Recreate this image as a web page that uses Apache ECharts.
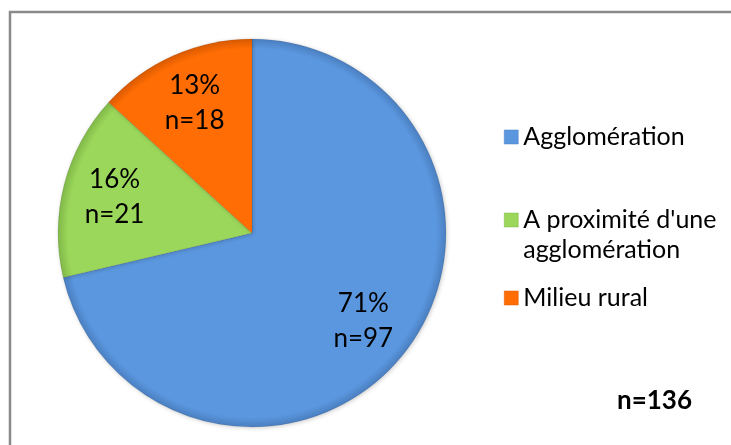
<!DOCTYPE html>
<html>
<head>
<meta charset="utf-8">
<script src="https://cdn.jsdelivr.net/npm/echarts@6/dist/echarts.min.js"></script>
<style>
  html, body { margin: 0; padding: 0; background: #fff; }
  #chart { width: 731px; height: 445px; }
</style>
</head>
<body>
<div id="chart"></div>
<script>
// données
var categories = ['Agglomération', "A proximité d'une agglomération", 'Milieu rural'];
var counts = [97, 21, 18];
var percents = [71, 16, 13];
var colors = ['#5b97df', '#9bd75a', '#ff6d04'];
var rimColors = ['#4a7fc0', '#80b848', '#d95a00'];
var totalLabel = 'n=136';

var cx = 252, cy = 233, r = 194;

function shade(i) {
  return {
    type: 'radial', x: cx, y: cy, r: r, global: true,
    colorStops: [
      { offset: 0, color: colors[i] },
      { offset: 0.95, color: colors[i] },
      { offset: 1, color: rimColors[i] }
    ]
  };
}

var pieData = [];
var labelData = [];
for (var i = 0; i < categories.length; i++) {
  pieData.push({
    name: categories[i],
    value: counts[i],
    itemStyle: { color: shade(i) }
  });
  labelData.push({
    name: categories[i],
    value: counts[i],
    pct: percents[i]
  });
}

// la 2e entrée a deux lignes : icône alignée sur la première
var legendTops = [122, 205, 283];
var legends = [];
for (var j = 0; j < categories.length; j++) {
  var twoLines = j === 1;
  legends.push({
    data: [categories[j]],
    left: 504,
    top: legendTops[j],
    padding: 0,
    orient: 'vertical',
    icon: twoLines ? 'path://M0,0H14V14H0Z M0,44L0.01,44L0,44.01Z' : 'rect',
    itemWidth: 14,
    itemHeight: twoLines ? 44 : 14,
    itemGap: 0,
    selectedMode: false,
    itemStyle: { color: colors[j], borderColor: rimColors[j], borderWidth: 0.5 },
    formatter: function (name) {
      return name === "A proximité d'une agglomération" ? "A proximité d'une\nagglomération" : name;
    },
    textStyle: {
      fontFamily: 'Lato',
      fontSize: 25,
      color: '#000',
      lineHeight: 30
    }
  });
}

var myChart = echarts.init(document.getElementById('chart'));
var option = {
  animation: false,
  backgroundColor: '#fff',
  color: colors,
  legend: legends,
  graphic: [
    {
      type: 'rect',
      shape: { x: 10, y: 12, width: 760, height: 460 },
      style: { fill: 'none', stroke: '#8a8a8a', lineWidth: 2.5 },
      silent: true
    },
    {
      type: 'text',
      left: 617,
      top: 388,
      style: {
        text: totalLabel,
        font: 'bold 26px Lato',
        fill: '#000'
      }
    }
  ],
  series: [
    {
      type: 'pie',
      center: [cx, cy],
      radius: [0, r],
      startAngle: 90,
      clockwise: true,
      silent: true,
      label: { show: false },
      labelLine: { show: false },
      itemStyle: {
        borderColor: 'rgba(0,0,0,0.15)',
        borderWidth: 0.6,
        shadowBlur: 4,
        shadowColor: 'rgba(0,0,0,0.2)',
        shadowOffsetX: 1,
        shadowOffsetY: 1
      },
      data: pieData
    },
    {
      // série transparente pour placer les étiquettes plus loin du centre
      type: 'pie',
      center: [cx, cy],
      radius: [0, 278],
      startAngle: 90,
      clockwise: true,
      silent: true,
      itemStyle: { color: 'rgba(0,0,0,0)' },
      label: {
        show: true,
        position: 'inside',
        fontFamily: 'Lato',
        fontSize: 26,
        lineHeight: 35,
        color: '#000',
        formatter: function (p) {
          return p.data.pct + '%\nn=' + p.value;
        }
      },
      labelLine: { show: false },
      data: labelData
    }
  ]
};
option && myChart.setOption(option);
</script>
</body>
</html>
